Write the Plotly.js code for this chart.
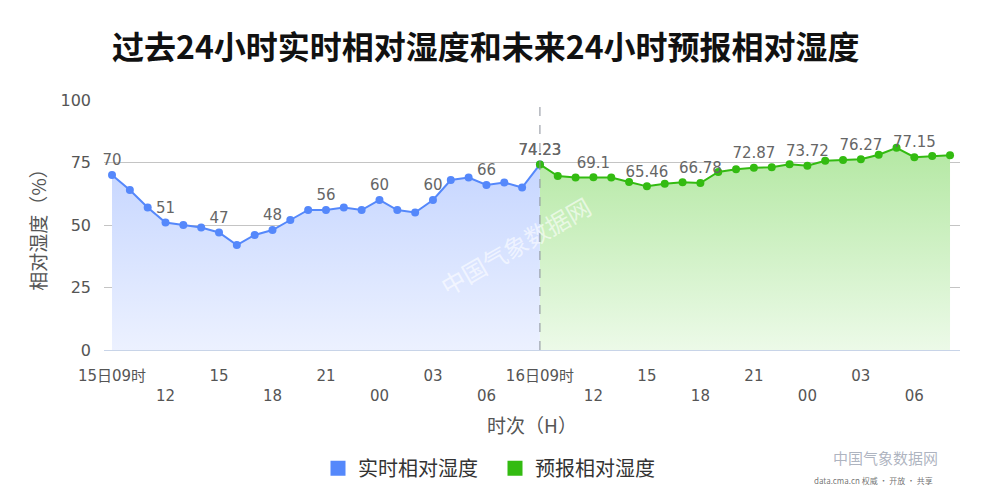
<!DOCTYPE html>
<html>
<head>
<meta charset="utf-8">
<script src="https://cdn.plot.ly/plotly-3.0.1.min.js"></script>
<style>html,body{margin:0;padding:0;background:#fff;}#chart{width:1000px;height:500px;}</style>
</head>
<body>
<div id="chart"></div>
<script>
// hour index 0 = 15日09时 ... 24 = 16日09时 ... 47 = 17日08时
const pastHours = [0,1,2,3,4,5,6,7,8,9,10,11,12,13,14,15,16,17,18,19,20,21,22,23,24];
const pastValues = [70,64,57,51,50,49,47,42,46,48,52,56,56,57,56,60,56,55,60,68,69,66,67,65,74.23];
const futureHours = [24,25,26,27,28,29,30,31,32,33,34,35,36,37,38,39,40,41,42,43,44,45,46,47];
const futureValues = [74.23,69.6,69.0,69.1,69.0,67.2,65.46,66.5,67.1,66.78,71.2,72.3,72.87,73.1,74.3,73.72,75.7,76.0,76.27,78.1,80.9,77.15,77.6,77.9];
const tickPositions = [0,3,6,9,12,15,18,21,24,27,30,33,36,39,42,45];
const tickLabels = ['15日09时','12','15','18','21','00','03','06','16日09时','12','15','18','21','00','03','06'];
const yTicks = [0,25,50,75,100];
const pastName = '实时相对湿度';
const futureName = '预报相对湿度';

const blue = '#5588fb';
const green = '#33bb11';
const numFont = 'DejaVu Sans, Noto Sans CJK SC, sans-serif';
const cjkFont = 'Noto Sans CJK SC, sans-serif';

function labelsEvery3(vals){ return vals.map((v,i)=> i%3===0 ? String(v) : ''); }

const traces = [
  {
    x: pastHours, y: pastValues, type:'scatter', mode:'lines+markers+text',
    text: labelsEvery3(pastValues), textposition:'top center',
    textfont:{family:numFont, size:15, color:'#666'},
    line:{color:blue, width:2}, marker:{color:blue, size:8},
    fill:'tozeroy',
    fillgradient:{type:'vertical', colorscale:[[0,'rgba(236,241,255,1)'],[1,'rgba(198,214,255,1)']]},
    showlegend:false, hoverinfo:'x+y', cliponaxis:false
  },
  {
    x: futureHours, y: futureValues, type:'scatter', mode:'lines+markers+text',
    text: labelsEvery3(futureValues), textposition:'top center',
    textfont:{family:numFont, size:15, color:'#666'},
    line:{color:green, width:2}, marker:{color:green, size:8},
    fill:'tozeroy',
    fillgradient:{type:'vertical', colorscale:[[0,'rgba(236,250,232,1)'],[1,'rgba(180,232,163,1)']]},
    showlegend:false, hoverinfo:'x+y', cliponaxis:false
  },
  { x:[null], y:[null], type:'scatter', mode:'markers', name:pastName,
    marker:{color:blue, symbol:'square', size:15}, showlegend:true },
  { x:[null], y:[null], type:'scatter', mode:'markers', name:futureName,
    marker:{color:green, symbol:'square', size:15}, showlegend:true }
];

const tickText = tickLabels.map((t,i)=> i%2===0 ? t : '<br>'+t);

const layout = {
  width:1000, height:500,
  paper_bgcolor:'#fff', plot_bgcolor:'#fff',
  margin:{l:104, r:40, t:100, b:150, autoexpand:false},
  title:{text:'过去24小时实时相对湿度和未来24小时预报相对湿度',
    font:{family:cjkFont, size:32, color:'#111', weight:'bold'},
    x:112/1000, xanchor:'left', y:1-48/500, yanchor:'middle'},
  xaxis:{
    range:[-0.45, 47.56], tickmode:'array', tickvals:tickPositions, ticktext:tickText,
    tickangle:0, showgrid:false, zeroline:false, showline:true, linecolor:'#c8d4e8', linewidth:1,
    ticks:'', ticklabelstandoff:12, automargin:false,
    tickfont:{family:numFont, size:15, color:'#555'},
    title:{text:'时次（H）', font:{family:cjkFont, size:19, color:'#555'}, standoff:16}
  },
  yaxis:{
    range:[0,100], tickmode:'array', tickvals:yTicks,
    showgrid:true, gridcolor:'#c4c4c4', gridwidth:1, zeroline:false, showline:false,
    ticks:'', ticklabelstandoff:12, automargin:false,
    tickfont:{family:numFont, size:16, color:'#555'},
    title:{text:'相对湿度（%）', font:{family:cjkFont, size:19, color:'#555'}, standoff:8}
  },
  shapes:[{type:'line', xref:'x', yref:'paper', x0:24, x1:24, y0:0, y1:1,
    line:{color:'#8a8f99', width:1, dash:'dash'}, layer:'above'}],
  legend:{orientation:'h', x:(318-104)/856, xanchor:'left', y:-0.395, yanchor:'top',
    font:{family:cjkFont, size:20, color:'#333'}, itemwidth:30, tracegroupgap:0,
    entrywidth:132, entrywidthmode:'pixels'},
  annotations:[
    {text:'中国气象数据网', xref:'paper', yref:'paper', x:(515-104)/856, y:(350-245)/250,
      showarrow:false, textangle:-30, font:{family:cjkFont, size:24, color:'rgba(255,255,255,0.6)'}},
    {text:'中国气象数据网', xref:'paper', yref:'paper', x:(940-104)/856, y:(350-470)/250,
      showarrow:false, font:{family:cjkFont, size:15, color:'rgba(120,130,150,0.6)'}},
    {text:'data.cma.cn 权威 · 开放 · 共享', xref:'paper', yref:'paper', x:(935-104)/856, y:(350-488)/250,
      showarrow:false, font:{family:cjkFont, size:8, color:'rgba(90,90,90,0.85)'}}
  ],
  hovermode:'closest'
};

Plotly.newPlot('chart', traces, layout, {displayModeBar:false, responsive:false});
</script>
</body>
</html>
